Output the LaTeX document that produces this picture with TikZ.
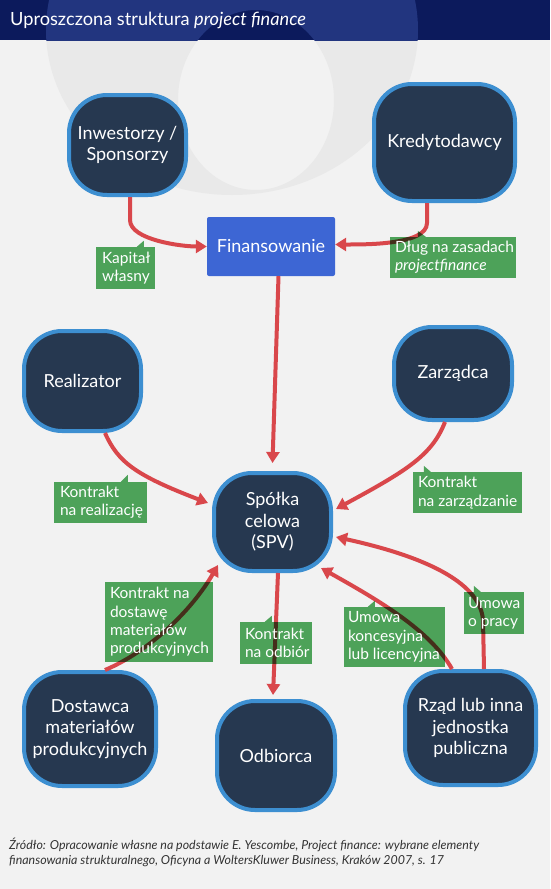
\documentclass[tikz,border=0pt]{standalone}
\usepackage{fontspec}
\setmainfont{Lato}
\usetikzlibrary{arrows.meta,calc}
\definecolor{bgc}{HTML}{F2F2F2}
\definecolor{wmc}{HTML}{E9E9E9}
\definecolor{barc}{HTML}{0C1A5C}
\definecolor{barwm}{HTML}{22357F}
\definecolor{nodefill}{HTML}{263850}
\definecolor{nodeborder}{HTML}{3D8FD1}
\definecolor{finblue}{HTML}{3D66D4}
\definecolor{lgreen}{HTML}{52AB5E}
\definecolor{arrred}{HTML}{D9474B}
\tikzset{
  ent/.style={draw=nodeborder, line width=4pt, fill=nodefill, rounded corners=38pt,
    text=white, font=\fontsize{18}{21.5}\selectfont, align=center, inner sep=0pt},
  labbox/.style={fill=lgreen, inner sep=0pt, blend mode=multiply},
  labtext/.style={text=white, font=\fontsize{15.5}{18.3}\selectfont, align=left, inner sep=0pt, anchor=west},
  tail/.style={fill=lgreen, blend mode=multiply},
  arr/.style={draw=arrred, line width=4pt, -{Triangle[length=11pt,width=13pt]}},
}
\begin{document}
\begin{tikzpicture}[x=1pt,y=-1pt]
\useasboundingbox (0,0) rectangle (550,889);
\fill[bgc] (0,0) rectangle (550,889);
% watermark
\begin{scope}
  \clip (0,40) rectangle (550,889);
  \fill[wmc, even odd rule] (232,30) ellipse [x radius=186, y radius=165] (256,100) ellipse [x radius=78, y radius=90];
\end{scope}
\fill[barc] (0,0) rectangle (550,40);
\begin{scope}
  \clip (0,0) rectangle (550,40);
  \fill[barwm, even odd rule] (232,30) ellipse [x radius=186, y radius=165] (256,100) ellipse [x radius=78, y radius=90];
\end{scope}
\node[anchor=base west, text=white, font=\fontsize{18.2}{21}\selectfont, inner sep=0pt] (title) at (10,25) {Uproszczona struktura \textit{project finance}};

% entities
\node[ent, minimum width=117pt, minimum height=100pt] (inv) at (127.5,145) {Inwestorzy /\\Sponsorzy};
\node[ent, minimum width=141pt, minimum height=117pt] (kred) at (444.5,142.5) {Kredytodawcy};
\node[fill=finblue, rounded corners=2pt, minimum width=128pt, minimum height=59pt, text=white, font=\fontsize{18}{21.5}\selectfont, inner sep=0pt] (fin) at (271,246.5) {Finansowanie};
\node[ent, minimum width=117pt, minimum height=100pt] (real) at (82.5,381) {Realizator};
\node[ent, minimum width=118pt, minimum height=93pt] (zarz) at (453,373.5) {Zarządca};
\node[ent, minimum width=117pt, minimum height=98pt] (spv) at (272.5,522) {Spółka\\celowa\\(SPV)};
\node[ent, minimum width=132pt, minimum height=114pt] (dost) at (90,729) {Dostawca\\materiałów\\produkcyjnych};
\node[ent, minimum width=118pt, minimum height=109pt] (odb) at (276,755.5) {Odbiorca};
\node[ent, minimum width=131pt, minimum height=114pt] (rzad) at (470.5,728) {Rząd lub inna\\jednostka\\publiczna};

% connectors
\draw[arr] ([xshift=2.5pt]inv.south) -- ++(0,23) .. controls +(0,20) and +(-25,0) .. (fin.west);
\draw[arr] ([xshift=-17.5pt]kred.south) -- ++(0,20) .. controls +(0,22) and +(30,0) .. ([yshift=2pt]fin.east);
\draw[arr] ([xshift=7.5pt]fin.south) -- ([yshift=8pt]spv.north);
\draw[arr] ([xshift=22.5pt]real.south) .. controls +(13,29) and +(-73,-28) .. ($(spv.west)+(-4,-19)$);
\draw[arr] ([xshift=-8pt]zarz.south) .. controls +(-13,33) and +(72,-39) .. ($(spv.east)+(3,-13)$);
\draw[arr] ([xshift=13.5pt]rzad.north) -- ++(-1,-49) .. controls +(-3,-40) and +(82,18) .. ($(spv.east)+(3,15)$);
\draw[arr] ([xshift=-18.5pt]rzad.north) .. controls +(-22,-39) and +(57,32) .. ($(spv.east)+(-12,46)$);
\draw[arr] ([xshift=15pt]dost.north) .. controls +(45,-19) and +(-26,45) .. ($(spv.west)+(6,43)$);
\draw[arr] ([xshift=5.5pt]spv.south) -- ($(odb.north)+(-3,-4)$);

% labels
\node[labbox, minimum width=59pt, minimum height=42pt] (kap) at (125.5,268) {};
\fill[tail] ($(kap.north west)+(41,0)$) -- ++(7,-6) -- ++(0,6) -- cycle;
\node[labtext] (kapt) at ($(kap.west)+(6,0)$) {Kapitał\\własny};

\node[labbox, minimum width=126pt, minimum height=41pt] (dlug) at (453,257.5) {};
\fill[tail] ($(dlug.north west)+(28,0)$) -- ++(0,-6) -- ++(8,6) -- cycle;
\node[labtext] (dlugt) at ($(dlug.west)+(5,0)$) {Dług na zasadach\\\textit{projectfinance}};

\node[labbox, minimum width=93pt, minimum height=41pt] (krea) at (100.5,502.5) {};
\fill[tail] ($(krea.north west)+(67,0)$) -- ++(7,-7) -- ++(0,7) -- cycle;
\node[labtext] (kreat) at ($(krea.west)+(6,0)$) {Kontrakt\\na realizację};

\node[labbox, minimum width=109pt, minimum height=41pt] (kzarz) at (467.5,492.5) {};
\fill[tail] ($(kzarz.north west)+(11,0)$) -- ++(0,-6) -- ++(7,6) -- cycle;
\node[labtext] (kzarzt) at ($(kzarz.west)+(5,0)$) {Kontrakt\\na zarządzanie};

\node[labbox, minimum width=108pt, minimum height=80pt] (kdost) at (159,622) {};
\node[labtext] (kdostt) at ($(kdost.west)+(5,0)$) {Kontrakt na\\dostawę\\materiałów\\produkcyjnych};

\node[labbox, minimum width=72pt, minimum height=42pt] (kodb) at (276,643) {};
\fill[tail] ($(kodb.north west)+(25,0)$) -- ++(7,-6) -- ++(0,6) -- cycle;
\node[labtext] (kodbt) at ($(kodb.west)+(5,0)$) {Kontrakt\\na odbiór};

\node[labbox, minimum width=101pt, minimum height=60pt] (ukon) at (394.5,637) {};
\fill[tail] ($(ukon.north west)+(24,0)$) -- ++(7,-6) -- ++(0,6) -- cycle;
\node[labtext] (ukont) at ($(ukon.west)+(4,0)$) {Umowa\\koncesyjna\\lub licencyjna};

\node[labbox, minimum width=60pt, minimum height=42pt] (uprac) at (494,613) {};
\fill[tail] ($(uprac.north west)+(10,0)$) -- ++(0,-6) -- ++(7,6) -- cycle;
\node[labtext] (upract) at ($(uprac.west)+(4,0)$) {Umowa\\o pracy};

% source
\node[anchor=north west, align=left, inner sep=0pt, text=black!80, font=\itshape\fontsize{12.4}{15}\selectfont] (src) at (9,838) {Źródło: Opracowanie własne na podstawie E. Yescombe, Project finance: wybrane elementy\\finansowania strukturalnego, Oficyna a WoltersKluwer Business, Kraków 2007, s. 17};
\end{tikzpicture}
\end{document}
